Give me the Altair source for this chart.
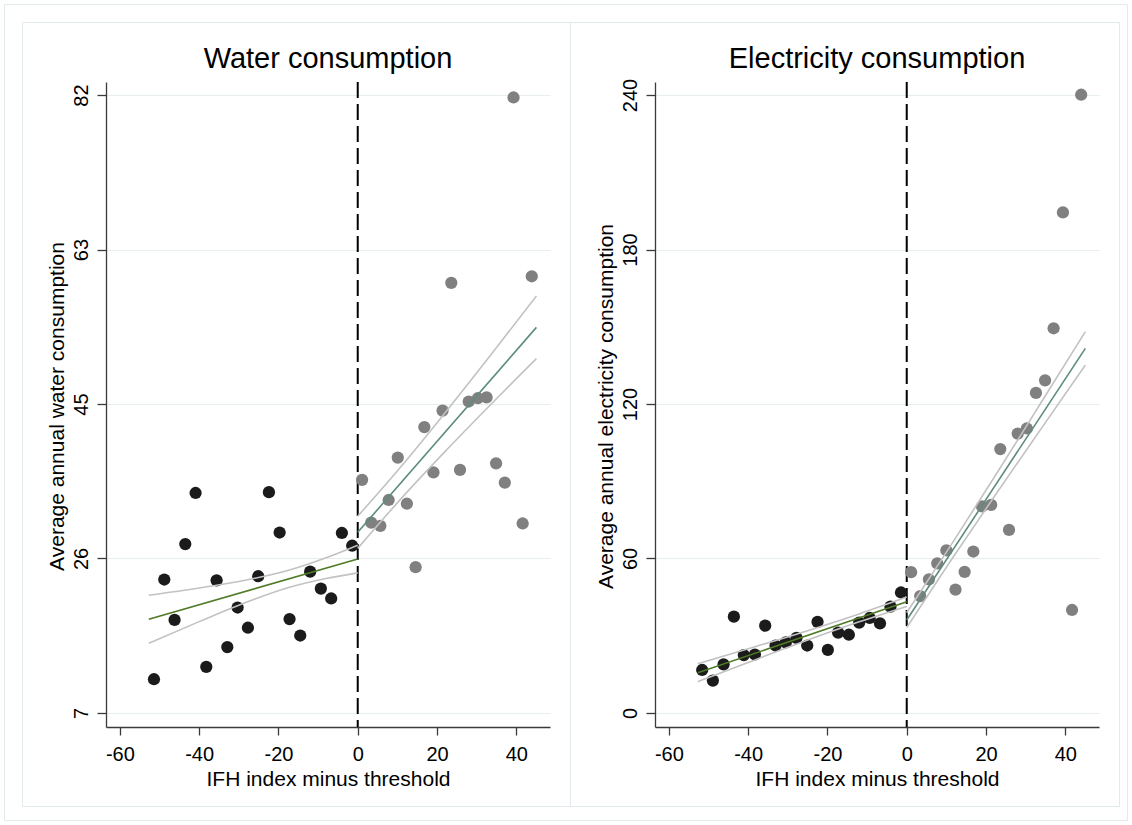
import altair as alt
import pandas as pd

FONT = "Liberation Sans, Arial, Helvetica, sans-serif"

# ---------------- Water consumption (binned means) ----------------
water_left_x = [-51.4, -48.8, -46.2, -43.5, -40.9, -38.2, -35.6, -32.9, -30.3, -27.7,
                -25.1, -22.4, -19.7, -17.2, -14.5, -12.0, -9.3, -6.7, -4.0, -1.4]
water_left_y = [11.1, 23.2, 18.3, 27.5, 33.7, 12.6, 23.1, 15.0, 19.8, 17.35,
                23.6, 33.8, 28.9, 18.4, 16.4, 24.15, 22.1, 20.9, 28.85, 27.3]
water_right_x = [1.1, 3.4, 5.7, 7.8, 10.1, 12.4, 14.6, 16.8, 19.1, 21.4,
                 23.6, 25.8, 28.0, 30.3, 32.5, 34.9, 37.1, 39.3, 41.6, 43.9]
water_right_y = [35.3, 30.1, 29.7, 32.85, 38.0, 32.4, 24.7, 41.7, 36.2, 43.7,
                 59.2, 36.5, 44.8, 45.2, 45.3, 37.3, 34.95, 81.7, 30.0, 60.0]

# fitted lines and confidence bands
water_fitL_x = [-52.7, 0.0]
water_fitL_y = [18.37, 25.69]
water_ciL_x = [-52.7, -40.0, -30.0, -17.0, -8.0, 0.0]
water_ciL_hi = [21.28, 22.17, 22.96, 24.38, 25.84, 27.37]
water_ciL_lo = [15.46, 18.09, 20.08, 22.28, 23.32, 24.01]
water_fitR_x = [0.0, 45.07]
water_fitR_y = [28.93, 53.8]
water_ciR_x = [0.0, 11.0, 22.0, 33.0, 45.07]
water_ciR_hi = [30.88, 36.95, 43.42, 50.11, 57.6]
water_ciR_lo = [26.98, 33.05, 38.72, 44.17, 50.0]
water_yticks = [7, 25.75, 44.5, 63.25, 82]
water_ydomain = [5.3, 83.58]

# ---------------- Electricity consumption (binned means) ----------------
elec_left_x = [-51.6, -48.9, -46.2, -43.6, -41.1, -38.3, -35.7, -33.1, -30.5, -27.8,
               -25.1, -22.5, -19.9, -17.3, -14.6, -12.0, -9.35, -6.75, -4.1, -1.45]
elec_left_y = [16.7, 12.6, 18.9, 37.4, 22.5, 22.7, 33.9, 26.2, 27.4, 29.2,
               26.2, 35.4, 24.5, 31.2, 30.4, 35.1, 36.9, 34.8, 41.3, 46.8]
elec_right_x = [1.1, 3.4, 5.6, 7.7, 10.0, 12.3, 14.6, 16.8, 19.0, 21.3,
                23.6, 25.8, 28.0, 30.3, 32.6, 34.9, 37.05, 39.4, 41.7, 44.0]
elec_right_y = [54.7, 45.4, 51.9, 58.1, 63.2, 47.9, 54.8, 62.7, 80.2, 80.8,
                102.5, 71.1, 108.5, 110.5, 124.3, 129.2, 149.4, 194.4, 40.0, 240.1]

elec_fitL_x = [-52.7, 0.0]
elec_fitL_y = [15.65, 43.2]
elec_ciL_x = [-52.7, -40.0, -26.0, -12.0, 0.0]
elec_ciL_hi = [19.15, 24.95, 31.49, 38.47, 45.0]
elec_ciL_lo = [12.15, 19.63, 27.73, 35.39, 41.4]
elec_fitR_x = [0.0, 45.06]
elec_fitR_y = [36.1, 141.6]
elec_ciR_x = [0.0, 11.0, 22.0, 33.0, 45.06]
elec_ciR_hi = [39.0, 64.79, 91.36, 118.33, 148.1]
elec_ciR_lo = [33.2, 58.91, 83.86, 108.39, 135.1]
elec_yticks = [0, 60, 120, 180, 240]
elec_ydomain = [-5.44, 245.05]

x_ticks = [-60, -40, -20, 0, 20, 40]
x_domain = [-63.5, 48.5]

# ---------------- styling ----------------
W, H = 444, 645
BLACK_PT = "#1b1b1b"
GRAY_PT = "#808080"
GREEN = "#4f7b26"
TEAL = "#5b8c7c"
CI = "#c2c2c2"
GRID = "#e6eef0"
FRAME = "#e2eaec"
AXIS = "#3a3a3a"
LABEL_EXPR = "'' + round(datum.value)"


def xy(xs, ys):
    return pd.DataFrame({"x": xs, "y": ys})


def panel(title, ytitle, lx, ly, rx, ry,
          fLx, fLy, cLx, cLlo, cLhi,
          fRx, fRy, cRx, cRlo, cRhi,
          ydomain, yticks, box, outer=None):
    X = alt.X("x:Q", scale=alt.Scale(domain=x_domain, nice=False, zero=False),
              axis=alt.Axis(values=x_ticks, labelExpr=LABEL_EXPR, title="IFH index minus threshold",
                            grid=False, tickSize=8, labelPadding=9, labelFontSize=20,
                            labelColor="black", labelFont=FONT, titleFont=FONT,
                            titleFontSize=21, titleFontWeight="normal", titleColor="black",
                            titleX=W / 2, titleY=58.5, titleAlign="center",
                            titleBaseline="alphabetic",
                            domainColor=AXIS, tickColor=AXIS, domainWidth=1.3, tickWidth=1.3))
    Y = alt.Y("y:Q", scale=alt.Scale(domain=ydomain, nice=False, zero=False),
              axis=alt.Axis(values=yticks, labelExpr=LABEL_EXPR, title=ytitle,
                            grid=True, gridColor=GRID, gridWidth=1.2,
                            tickSize=9, labelPadding=10, labelFontSize=20, labelAngle=270,
                            labelAlign="center", labelBaseline="alphabetic",
                            labelColor="black", labelFont=FONT, titleFont=FONT,
                            titleFontSize=21, titleFontWeight="normal", titleColor="black",
                            titleAngle=270, titleX=-43, titleY=324, titleAlign="center",
                            titleBaseline="alphabetic",
                            domainColor=AXIS, tickColor=AXIS, domainWidth=1.3, tickWidth=1.3))

    layers = []
    one = pd.DataFrame({"k": [0]})
    if outer is not None:
        layers.append(alt.Chart(one).mark_rect(fillOpacity=0, stroke=FRAME, strokeWidth=1).encode(
            x=alt.value(outer[0]), x2=alt.value(outer[1]),
            y=alt.value(outer[2]), y2=alt.value(outer[3])))
    layers.append(alt.Chart(one).mark_rect(fillOpacity=0, stroke=FRAME, strokeWidth=1).encode(
        x=alt.value(box[0]), x2=alt.value(box[1]), y=alt.value(box[2]), y2=alt.value(box[3])))

    layers.append(alt.Chart(xy([0], [0])).mark_rule(
        color="black", strokeWidth=2, strokeDash=[16, 6]).encode(x=X))

    layers.append(alt.Chart(xy(lx, ly)).mark_circle(size=150, opacity=1, color=BLACK_PT).encode(x=X, y=Y))
    layers.append(alt.Chart(xy(rx, ry)).mark_circle(size=150, opacity=1, color=GRAY_PT).encode(x=X, y=Y))

    for cx, cy in [(cLx, cLlo), (cLx, cLhi), (cRx, cRlo), (cRx, cRhi)]:
        layers.append(alt.Chart(xy(cx, cy)).mark_line(
            color=CI, strokeWidth=1.6, interpolate="monotone").encode(x=X, y=Y))
    layers.append(alt.Chart(xy(fLx, fLy)).mark_line(color=GREEN, strokeWidth=1.6).encode(x=X, y=Y))
    layers.append(alt.Chart(xy(fRx, fRy)).mark_line(color=TEAL, strokeWidth=1.6).encode(x=X, y=Y))

    layers.append(alt.Chart(one).mark_text(
        font=FONT, fontSize=29, color="black", align="center", baseline="alphabetic").encode(
        x=alt.value(W / 2), y=alt.value(-13.7), text=alt.value(title)))

    return alt.layer(*layers).properties(width=W, height=H)


left = panel("Water consumption", "Average annual water consumption",
             water_left_x, water_left_y, water_right_x, water_right_y,
             water_fitL_x, water_fitL_y, water_ciL_x, water_ciL_lo, water_ciL_hi,
             water_fitR_x, water_fitR_y, water_ciR_x, water_ciR_lo, water_ciR_hi,
             water_ydomain, water_yticks,
             box=(-83.5, 464.5, -59.5, 724.5),
             outer=(-101.5, 1021.5, -77.5, 738.5))

right = panel("Electricity consumption", "Average annual electricity consumption",
              elec_left_x, elec_left_y, elec_right_x, elec_right_y,
              elec_fitL_x, elec_fitL_y, elec_ciL_x, elec_ciL_lo, elec_ciL_hi,
              elec_fitR_x, elec_fitR_y, elec_ciR_x, elec_ciR_lo, elec_ciR_hi,
              elec_ydomain, elec_yticks,
              box=(-84.5, 464.5, -59.5, 724.5))

chart = alt.hconcat(left, right, spacing=105, bounds="flush").properties(
    padding={"left": 4, "top": 4, "right": 4, "bottom": 4},
    background="white",
).configure_view(stroke=None)

chart.save("out.html", embed_options={"renderer": "svg", "actions": False})
